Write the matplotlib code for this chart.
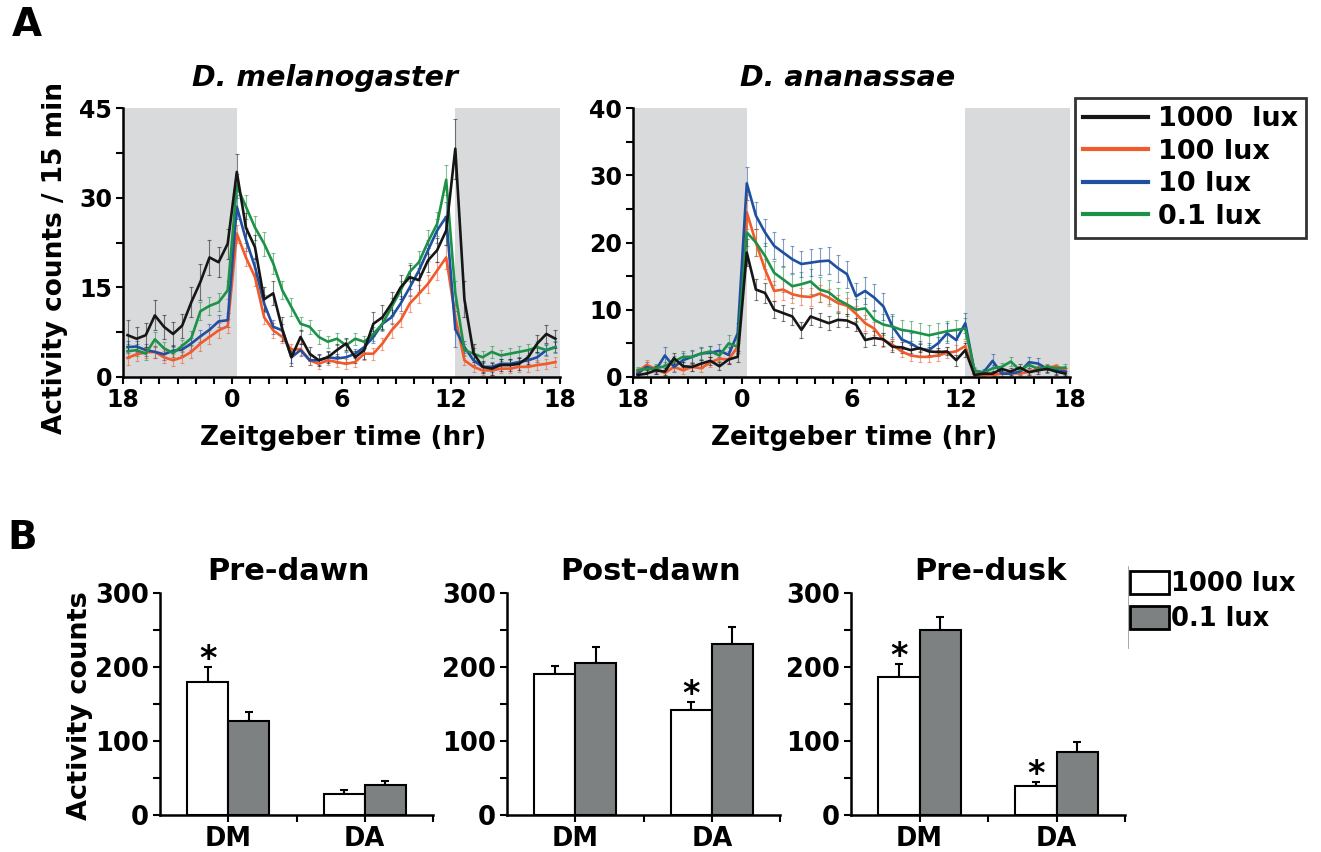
import numpy as np
import matplotlib
matplotlib.use("Agg")
import matplotlib.pyplot as plt
from matplotlib.lines import Line2D
from matplotlib.patches import Patch

W, H = 1321, 852

# ---- Panel A: activity profiles, 30-min bins from ZT18 (-6) to ZT18 ----
zt = np.arange(-5.75, 18.0, 0.5)

# D. melanogaster
dm_1000 = [7.0, 6.4, 7.0, 10.3, 8.4, 7.2, 8.6, 12.5, 15.9, 20.0, 19.2, 22.3,
           34.3, 25.0, 21.7, 13.0, 14.0, 8.0, 3.3, 6.7, 3.9, 2.8, 3.3, 4.5,
           5.6, 3.3, 4.5, 8.9, 10.0, 12.3, 15.0, 16.7, 16.2, 19.5, 21.2, 24.5,
           38.2, 13.0, 4.0, 1.7, 1.4, 2.0, 2.0, 2.2, 3.3, 5.6, 7.2, 6.4]
dm_100 = [3.2, 3.8, 4.1, 4.2, 3.3, 2.8, 3.3, 4.2, 5.6, 6.7, 7.8, 8.5,
          24.0, 20.0, 16.7, 10.0, 7.8, 6.7, 4.5, 4.7, 2.8, 2.2, 2.8, 2.5,
          2.2, 2.5, 3.9, 3.9, 5.6, 7.8, 9.5, 12.3, 13.9, 15.6, 17.8, 20.0,
          10.0, 2.8, 1.7, 1.1, 1.1, 1.4, 1.4, 1.7, 1.7, 2.0, 2.2, 2.5]
dm_10 = [5.0, 5.1, 4.5, 4.2, 3.8, 4.4, 4.6, 5.6, 6.8, 7.9, 9.3, 9.5,
         28.5, 23.0, 18.4, 12.3, 8.4, 7.8, 3.3, 4.5, 2.8, 2.8, 3.3, 3.1,
         3.3, 3.9, 5.0, 6.7, 8.9, 10.0, 12.3, 15.0, 17.8, 21.2, 24.5, 26.8,
         8.0, 5.0, 2.8, 1.7, 1.7, 2.2, 2.2, 2.5, 2.8, 3.3, 4.5, 5.0]
dm_01 = [4.3, 4.5, 3.9, 6.3, 4.8, 4.0, 5.2, 6.5, 11.0, 11.9, 12.5, 14.5,
         32.0, 28.5, 25.0, 22.3, 19.0, 14.5, 11.7, 8.9, 8.4, 6.7, 5.9, 6.4,
         5.3, 6.4, 5.9, 7.2, 8.9, 11.7, 14.5, 17.6, 19.2, 22.6, 25.6, 33.0,
         14.0, 4.5, 3.9, 3.3, 4.2, 3.6, 3.9, 4.2, 4.5, 5.0, 4.5, 5.0]

dm_1000_err = [2.5, 2, 2, 2.5, 2, 2, 2, 2.5, 3, 3, 2.5, 2.5,
               3, 2.5, 2, 2, 2, 2, 1.5, 1.2, 1.2, 1, 1, 1,
               1, 1, 1.5, 2, 2, 2, 2, 2, 2, 2, 2, 2.5,
               5, 3, 1.5, 1, 1, 1, 1, 1, 1.2, 1.5, 1.5, 1.5]
dm_100_err = [1.2, 1.2, 1, 1, 1, 1, 1, 1, 1.2, 1.2, 1.2, 1.2,
              1.5, 1.5, 1.5, 1.2, 1.2, 1, 1, 1, 0.8, 0.8, 0.8, 0.8,
              0.8, 0.8, 1, 1, 1, 1.2, 1.2, 1.5, 1.5, 1.5, 1.5, 2,
              2, 0.8, 0.8, 0.8, 0.8, 0.8, 0.8, 0.8, 0.8, 0.8, 0.8, 0.8]
dm_10_err = [1, 1, 1, 1, 1, 1, 1, 1, 1, 1, 1, 1.2,
             2, 2, 1.5, 1.5, 1.2, 1, 1, 1, 0.8, 0.8, 0.8, 0.8,
             0.8, 0.8, 1, 1, 1, 1.2, 1.2, 1.5, 1.5, 1.8, 2, 2.5,
             3, 1, 0.8, 0.8, 0.8, 0.8, 0.8, 0.8, 0.8, 0.8, 0.8, 0.8]
dm_01_err = [1.2, 1, 1, 1.2, 1, 1, 1, 1.2, 1.5, 1.5, 1.5, 1.5,
             2, 2, 2, 2, 1.8, 1.5, 1.5, 1.2, 1.2, 1.2, 1, 1,
             1, 1, 1, 1.2, 1.2, 1.5, 1.5, 1.5, 1.8, 2, 2, 2.5,
             2, 1, 1, 1, 1, 1, 1, 1, 1, 1, 1, 1]

# D. ananassae
da_1000 = [0.3, 0.5, 1.0, 0.8, 2.8, 1.6, 1.5, 2.0, 2.4, 1.6, 2.6, 3.0,
           18.5, 13.0, 12.5, 10.0, 9.5, 9.0, 7.0, 9.0, 8.5, 8.0, 8.5, 8.4,
           7.8, 5.5, 5.8, 5.6, 4.5, 4.4, 4.0, 4.3, 3.8, 3.7, 3.8, 2.5,
           4.0, 0.3, 0.5, 0.5, 1.2, 0.8, 1.4, 0.7, 1.0, 1.2, 0.8, 0.5]
da_100 = [0.8, 1.8, 1.2, 0.6, 1.5, 1.0, 1.5, 1.3, 2.2, 2.7, 2.6, 4.5,
          24.5, 20.0, 16.0, 12.8, 13.0, 12.3, 12.0, 11.9, 12.4, 11.8, 11.0, 10.6,
          9.4, 8.0, 7.2, 5.5, 4.8, 3.8, 3.2, 3.0, 3.0, 3.2, 3.6, 3.8,
          4.6, 0.4, 0.3, 0.3, 0.5, 0.6, 0.5, 0.8, 1.2, 1.4, 1.6, 1.0]
da_10 = [0.5, 1.5, 1.0, 3.2, 1.5, 2.5, 3.0, 3.5, 3.6, 3.9, 3.3, 6.5,
         28.8, 24.0, 21.5, 19.5, 18.5, 17.5, 16.8, 17.0, 17.2, 17.3, 16.2, 15.3,
         12.0, 12.8, 11.8, 10.5, 7.5, 5.6, 5.0, 4.2, 4.0, 5.0, 6.5, 5.5,
         8.0, 0.9, 0.7, 2.4, 0.5, 0.5, 0.8, 2.2, 2.0, 1.2, 1.0, 0.8]
da_01 = [1.0, 1.2, 1.3, 1.6, 2.3, 3.0, 3.0, 3.5, 3.8, 3.2, 5.0, 4.5,
         21.5, 20.0, 18.0, 15.5, 14.5, 13.5, 13.8, 14.2, 13.0, 12.6, 11.5, 10.8,
         10.0, 10.2, 8.5, 7.8, 7.5, 7.0, 6.8, 6.5, 6.2, 6.5, 6.8, 7.0,
         7.2, 1.0, 0.6, 1.3, 1.5, 2.3, 1.0, 1.8, 1.2, 1.5, 1.3, 1.4]

da_1000_err = [0.4, 0.5, 0.6, 0.5, 0.8, 0.6, 0.6, 0.6, 0.6, 0.6, 0.7, 0.8,
               2, 1.5, 1.5, 1.3, 1.2, 1.2, 1.2, 1.2, 1, 1, 1, 1,
               1, 1, 1, 1, 0.8, 0.8, 0.8, 0.6, 0.6, 0.6, 0.6, 0.8,
               1, 0.3, 0.3, 0.4, 0.5, 0.5, 0.5, 0.4, 0.5, 0.5, 0.5, 0.4]
da_100_err = [0.6, 0.8, 0.6, 0.5, 0.6, 0.5, 0.6, 0.6, 0.7, 0.7, 0.7, 1,
              2.5, 2, 1.5, 1.5, 1.5, 1.3, 1.3, 1.3, 1.3, 1.3, 1.2, 1.2,
              1.2, 1.2, 1, 1, 0.8, 0.8, 0.8, 0.8, 0.8, 0.8, 0.8, 1,
              0.8, 0.3, 0.3, 0.3, 0.3, 0.4, 0.4, 0.4, 0.4, 0.4, 0.4, 0.4]
da_10_err = [0.5, 0.8, 0.6, 1.3, 0.8, 1, 1, 1, 1, 1, 1.2, 1.5,
             2.5, 2, 2, 2, 2, 2, 2, 2, 2, 2, 2, 2,
             2, 2, 2, 2, 1.8, 1.5, 1.5, 1.2, 1, 1, 1.5, 1.5,
             1.5, 0.5, 0.5, 1, 0.5, 0.5, 0.5, 0.8, 0.8, 0.6, 0.5, 0.5]
da_01_err = [0.5, 0.5, 0.6, 0.6, 0.8, 0.8, 0.8, 0.8, 0.8, 0.8, 1.2, 1,
             2, 2, 2, 1.8, 1.8, 1.8, 1.8, 1.8, 1.8, 1.8, 1.8, 1.8,
             1.6, 1.6, 1.5, 1.5, 1.5, 1.5, 1.5, 1.5, 1.5, 1.5, 1.5, 1.5,
             1.5, 0.5, 0.5, 0.5, 0.6, 0.6, 0.5, 0.5, 0.5, 0.5, 0.5, 0.5]

light_labels = ["1000  lux", "100 lux", "10 lux", "0.1 lux"]
light_colors = ["#161616", "#f15a2b", "#1f4f9e", "#1d9147"]

# ---- Panel B: summed activity counts ----
species = ["DM", "DA"]
windows = ["Pre-dawn", "Post-dawn", "Pre-dusk"]
bar_1000 = {"Pre-dawn": [180, 29], "Post-dawn": [191, 142], "Pre-dusk": [186, 39]}
bar_1000_err = {"Pre-dawn": [20, 5], "Post-dawn": [11, 11], "Pre-dusk": [18, 6]}
bar_01 = {"Pre-dawn": [127, 40], "Post-dawn": [206, 231], "Pre-dusk": [250, 85]}
bar_01_err = {"Pre-dawn": [12, 6], "Post-dawn": [21, 23], "Pre-dusk": [18, 14]}
# which 1000-lux bars carry a significance star
stars = {"Pre-dawn": [True, False], "Post-dawn": [False, True], "Pre-dusk": [True, True]}

plt.rcParams["font.family"] = "DejaVu Sans"
plt.rcParams["font.weight"] = "bold"

fig = plt.figure(figsize=(W / 100, H / 100), dpi=100)


def px_axes(x0, y0, x1, y1):
    return fig.add_axes([x0 / W, 1 - y1 / H, (x1 - x0) / W, (y1 - y0) / H])


def style_axes(ax, tick_size):
    for side in ["top", "right"]:
        ax.spines[side].set_visible(False)
    for side in ["left", "bottom"]:
        ax.spines[side].set_linewidth(1.8)
    ax.tick_params(which="both", direction="out", length=5, width=1.5,
                   labelsize=tick_size, pad=3)


def activity_panel(ax, series, errs, ymax, ystep):
    ax.axvspan(-6, 0.25, color="#d9dadc", lw=0, zorder=0)
    ax.axvspan(12.25, 18, color="#d9dadc", lw=0, zorder=0)
    for vals, err, col in list(zip(series, errs, light_colors))[::-1]:
        ax.errorbar(zt, vals, yerr=err, fmt="none", ecolor=col, alpha=0.55,
                    elinewidth=0.8, capsize=1.6, capthick=0.8, zorder=2)
    order = [1, 2, 3, 0]
    for i in order:
        ax.plot(zt, series[i], color=light_colors[i], lw=1.9, zorder=3)
    ax.set_xlim(-6, 18)
    ax.set_ylim(0, ymax)
    ax.set_xticks([-6, 0, 6, 12, 18])
    ax.set_xticklabels(["18", "0", "6", "12", "18"])
    ax.set_xticks(np.arange(-6, 19, 1), minor=True)
    ax.set_yticks(np.arange(0, ymax + 0.1, ystep))
    ax.set_yticks(np.arange(0, ymax + 0.1, ystep / 2), minor=True)
    style_axes(ax, 17)
    for lab in ax.get_xticklabels() + ax.get_yticklabels():
        lab.set_fontweight("bold")


ax_dm = px_axes(123, 108, 560, 377)
activity_panel(ax_dm, [dm_1000, dm_100, dm_10, dm_01],
               [dm_1000_err, dm_100_err, dm_10_err, dm_01_err], 45, 15)
ax_da = px_axes(633, 108, 1070, 377)
activity_panel(ax_da, [da_1000, da_100, da_10, da_01],
               [da_1000_err, da_100_err, da_10_err, da_01_err], 40, 10)

fig.text(325 / W, 1 - 78 / H, "D. melanogaster", ha="center", va="center",
         fontsize=20.5, fontweight="bold", fontstyle="italic")
fig.text(848 / W, 1 - 78 / H, "D. ananassae", ha="center", va="center",
         fontsize=20.5, fontweight="bold", fontstyle="italic")
for xc in [343, 854]:
    fig.text(xc / W, 1 - 438 / H, "Zeitgeber time (hr)", ha="center", va="center",
             fontsize=19, fontweight="bold")
fig.text(55 / W, 1 - 258 / H, "Activity counts / 15 min", ha="center", va="center",
         rotation=90, fontsize=19, fontweight="bold")

handles = [Line2D([], [], color=c, lw=3) for c in light_colors]
leg = fig.legend(handles, light_labels, loc="upper left",
                 bbox_to_anchor=(1075 / W, 1 - 98 / H), frameon=True, fancybox=False,
                 prop={"weight": "bold", "size": 19.5}, handlelength=2.4,
                 handletextpad=0.35, labelspacing=0.24, borderpad=0.3,
                 borderaxespad=0)
leg.get_frame().set_edgecolor("black")
leg.get_frame().set_linewidth(2)

# ---- Panel B bars ----
b_rects = [(160, 593, 433, 815), (507, 593, 780, 815), (851, 593, 1125, 815)]
title_x = [288, 651, 990]
bw = 0.3
pos = np.array([0.5, 1.5])
for win, rect, tx in zip(windows, b_rects, title_x):
    ax = px_axes(*rect)
    ax.bar(pos - bw / 2, bar_1000[win], bw, color="white", edgecolor="black",
           lw=1.5, zorder=2)
    ax.bar(pos + bw / 2, bar_01[win], bw, color="#7d8182", edgecolor="black",
           lw=1.5, zorder=2)
    ax.errorbar(pos - bw / 2, bar_1000[win],
                yerr=[[0, 0], bar_1000_err[win]], fmt="none", ecolor="black",
                elinewidth=1.5, capsize=3, capthick=1.5, zorder=1)
    ax.errorbar(pos + bw / 2, bar_01[win],
                yerr=[[0, 0], bar_01_err[win]], fmt="none", ecolor="black",
                elinewidth=1.5, capsize=3, capthick=1.5, zorder=1)
    for k in range(2):
        if stars[win][k]:
            ax.text(pos[k] - bw / 2, bar_1000[win][k] + bar_1000_err[win][k] - 12,
                    "*", ha="center", va="bottom", fontsize=24, fontweight="bold")
    ax.set_xlim(0, 2)
    ax.set_ylim(0, 300)
    ax.set_xticks(pos)
    ax.set_xticklabels(species)
    ax.set_xticks([1.0, 2.0], minor=True)
    ax.set_yticks([0, 100, 200, 300])
    ax.set_yticks(np.arange(0, 301, 50), minor=True)
    style_axes(ax, 18.5)
    for lab in ax.get_xticklabels() + ax.get_yticklabels():
        lab.set_fontweight("bold")
    fig.text(tx / W, 1 - 572 / H, win, ha="center", va="center",
             fontsize=22, fontweight="bold")

fig.text(80 / W, 1 - 706 / H, "Activity counts", ha="center", va="center",
         rotation=90, fontsize=19.5, fontweight="bold")

bar_handles = [Patch(facecolor="white", edgecolor="black", lw=2),
               Patch(facecolor="#7d8182", edgecolor="black", lw=2)]
fig.legend(bar_handles, ["1000 lux", "0.1 lux"], loc="upper left",
           bbox_to_anchor=(1130 / W, 1 - 571 / H), frameon=False,
           prop={"weight": "bold", "size": 18.5}, handlelength=1.5,
           handleheight=1.0, handletextpad=0.1, labelspacing=0.32,
           borderpad=0, borderaxespad=0)
fig.add_artist(Line2D([1128 / W, 1128 / W], [1 - 566 / H, 1 - 648 / H],
                      color="#999999", lw=0.6))

fig.text(27 / W, 1 - 25 / H, "A", ha="center", va="center", fontsize=28,
         fontweight="bold")
fig.text(22 / W, 1 - 538 / H, "B", ha="center", va="center", fontsize=28,
         fontweight="bold")

fig.savefig("out.png", dpi=100)
